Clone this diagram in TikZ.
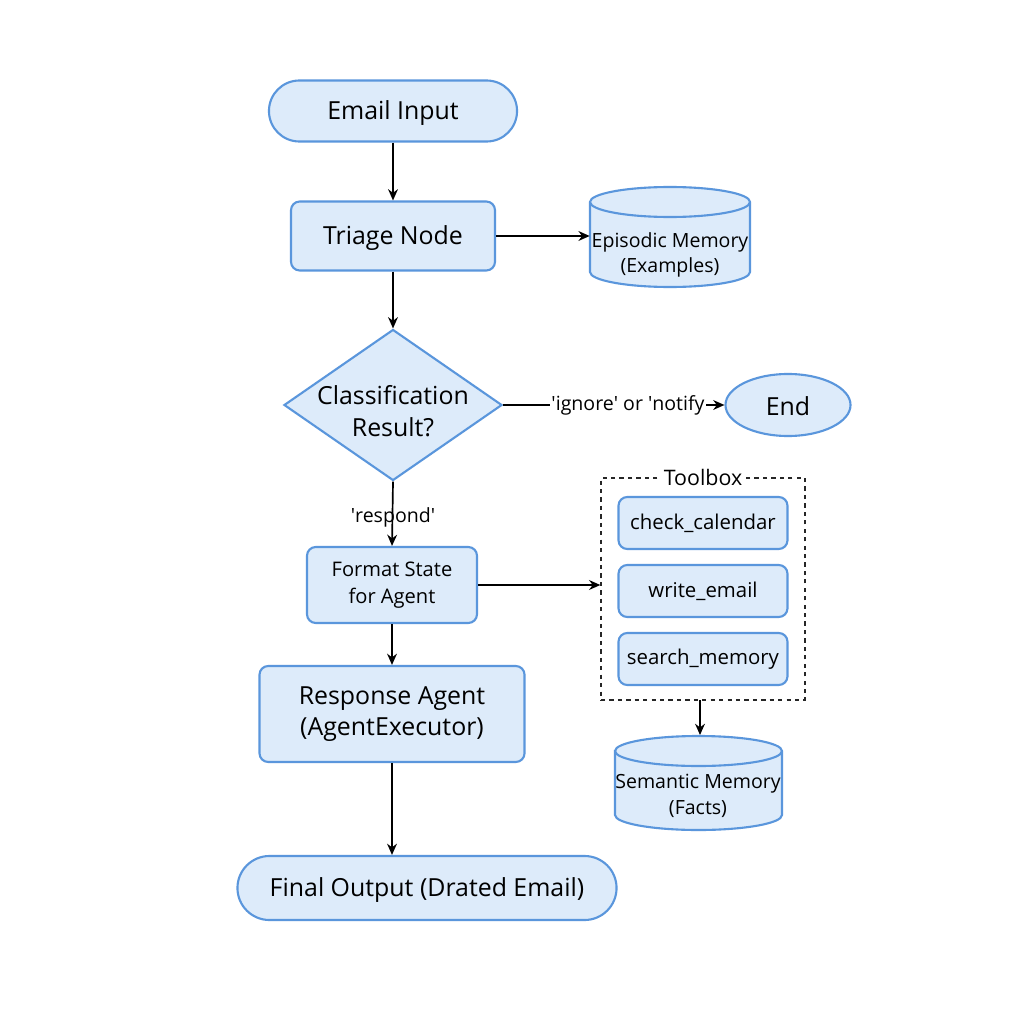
\documentclass[tikz,border=0pt]{standalone}
\usepackage{fontspec}
\setmainfont{Open Sans}
\usetikzlibrary{shapes.geometric,arrows.meta}
\definecolor{boxfill}{RGB}{221,235,250}
\definecolor{boxline}{RGB}{90,150,220}
\newcommand\sq{\textquotesingle}
\tikzset{
  base/.style={draw=boxline, fill=boxfill, line width=1.5pt, align=center, inner sep=0pt, text=black},
  bigtxt/.style={font=\fontsize{17.7}{22.5}\selectfont},
  smalltxt/.style={font=\fontsize{13.9}{18}\selectfont},
  stadium/.style={base, rectangle, rounded corners=#1},
  procbox/.style={base, rectangle, rounded corners=0.22cm},
  decision/.style={base, diamond, aspect=1.44},
  endnode/.style={base, ellipse},
  toolbtn/.style={base, rectangle, rounded corners=0.22cm, minimum width=4.225cm, minimum height=1.3cm, font=\fontsize{14.5}{18}\selectfont},
  dashbox/.style={draw=black!85, dashed, line width=0.9pt, rectangle, inner sep=0pt},
  conn/.style={draw=black, line width=1.2pt, -{Stealth[length=8pt,width=7pt]}},
  cylline/.style={draw=boxline, fill=boxfill, line width=1.5pt},
  lbl/.style={smalltxt, inner sep=1pt},
}
\begin{document}
\begin{tikzpicture}[x=0.025cm, y=-0.025cm]
\useasboundingbox[fill=white] (0,0) rectangle (1024,1024);

% cylinders
\node[minimum width=4cm, minimum height=2.5cm, inner sep=0pt] (epi) at (670,237) {};
\draw[cylline] (590,202) -- (590,272) arc[start angle=180, end angle=0, x radius=80, y radius=15] -- (750,202) arc[start angle=0, end angle=-180, x radius=80, y radius=15] -- cycle;
\draw[cylline] (590,202) arc[start angle=180, end angle=0, x radius=80, y radius=15];
\node[smalltxt, align=center] (epitxt) at (670,255) {Episodic Memory\\(Examples)};

\node[minimum width=4.175cm, minimum height=2.375cm, inner sep=0pt] (sem) at (698,782) {};
\draw[cylline] (615,751) -- (615,815) arc[start angle=180, end angle=0, x radius=83.5, y radius=15] -- (782,751) arc[start angle=0, end angle=-180, x radius=83.5, y radius=15] -- cycle;
\draw[cylline] (615,751) arc[start angle=180, end angle=0, x radius=83.5, y radius=15];
\node[smalltxt, align=center] (semtxt) at (698,796) {Semantic Memory\\(Facts)};

% main flow
\node[stadium=0.76cm, bigtxt, minimum width=6.2cm, minimum height=1.525cm] (email) at (393,111) {};
\node[bigtxt] (emailtxt) at (393,113) {Email Input};
\node[procbox, minimum width=5.1cm, minimum height=1.725cm] (triage) at (393,236) {};
\node[bigtxt] (triagetxt) at (393,238) {Triage Node};
\node[decision, minimum width=5.45cm, minimum height=3.775cm] (class) at (393,405) {};
\node[bigtxt, align=center] (classtxt) at (393,411) {Classification\\Result?};
\node[endnode, minimum width=3.125cm, minimum height=1.55cm] (end) at (788,405) {};
\node[bigtxt] (endtxt) at (788,406) {End};
\node[procbox, font=\fontsize{14.3}{19}\selectfont, minimum width=4.25cm, minimum height=1.9cm] (format) at (392,585) {Format State\\for Agent};
\node[procbox, bigtxt, minimum width=6.625cm, minimum height=2.4cm] (agent) at (392,714) {Response Agent\\(AgentExecutor)};
\node[stadium=0.8cm, minimum width=9.475cm, minimum height=1.6cm] (final) at (427,888) {};
\node[bigtxt] (finaltxt) at (427,890) {Final Output (Drated Email)};

% toolbox
\node[dashbox, minimum width=5.1cm, minimum height=5.55cm] (toolbox) at (703,589) {};
\node[fill=white, inner sep=3pt, font=\fontsize{15.2}{18}\selectfont] (tbtitle) at (toolbox.north) {Toolbox};
\node[toolbtn] (cal) at (703,523) {check\_calendar};
\node[toolbtn] (write) at (703,591) {write\_email};
\node[toolbtn] (search) at (703,659) {search\_memory};

% connectors
\draw[conn] (email) -- (triage);
\draw[conn] (triage.east) -- (epi.west |- triage.east);
\draw[conn] (triage) -- (class);
\draw[conn] (class.east) -- (end.west);
\node[lbl, fill=white] (ignlbl) at (628,405) {\sq ignore\sq{} or \sq notify};
\draw[conn] (class.south) -- (format.north);
\node[lbl] (resplbl) at (393,517) {\sq respond\sq};
\draw[conn] (format.east) -- (toolbox.west |- format.east);
\draw[conn] (format) -- (agent);
\draw[conn] (agent.south) -- (agent.south |- final.north);
\coordinate (tbb) at (700,700);
\coordinate (semtop) at (700,735);
\draw[conn] (tbb) -- (semtop);
\end{tikzpicture}
\end{document}
